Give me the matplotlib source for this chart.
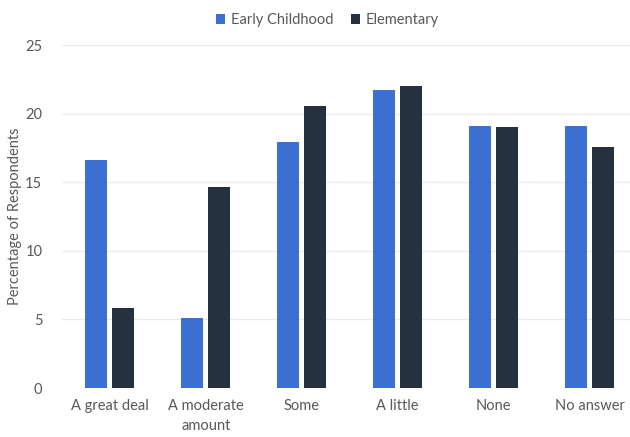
import numpy as np
import matplotlib
matplotlib.use("Agg")
import matplotlib.pyplot as plt

plt.rcParams['font.family'] = ['Lato', 'DejaVu Sans']

categories = ["A great deal", "A moderate\namount", "Some", "A little", "None", "No answer"]
early_childhood = [16.6, 5.1, 17.9, 21.7, 19.1, 19.1]
elementary = [5.8, 14.65, 20.55, 22.0, 19.0, 17.6]

blue = "#3b6fd1"
dark = "#26313f"
text_col = "#595959"

fig = plt.figure(figsize=(6.3, 4.37), dpi=100)
ax = fig.add_axes([0.098, 0.112, 0.902, 0.785])

x = np.arange(len(categories))
w = 0.23
ax.bar(x - 0.14, early_childhood, width=w, color=blue, label="Early Childhood", zorder=3)
ax.bar(x + 0.14, elementary, width=w, color=dark, label="Elementary", zorder=3)

ax.set_xlim(-0.5, 5.42)
ax.set_ylim(0, 25)
ax.set_yticks([0, 5, 10, 15, 20, 25])
ax.set_xticks(x)
ax.set_xticklabels(categories, linespacing=1.5)
ax.tick_params(length=0, labelsize=10.5, colors=text_col)
ax.tick_params(axis="y", pad=14)
ax.tick_params(axis="x", pad=8)
ax.yaxis.grid(True, color="#ebebeb", linewidth=1, zorder=0)
for s in ax.spines.values():
    s.set_visible(False)

ax.set_ylabel("Percentage of Respondents", fontsize=10.5, color=text_col, labelpad=2)

leg = fig.legend(loc="upper center", bbox_to_anchor=(0.52, 1.0), ncol=2, frameon=False,
                 fontsize=10.5, handlelength=0.6, handleheight=0.6, handletextpad=0.4,
                 columnspacing=1.2)
for t in leg.get_texts():
    t.set_color(text_col)

fig.savefig("out.png", dpi=100)
